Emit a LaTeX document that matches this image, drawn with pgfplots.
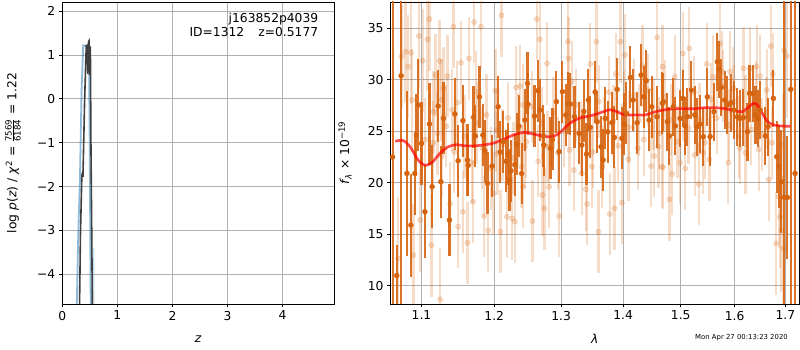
\documentclass[border=0pt]{standalone}
\usepackage{amsmath}
\usepackage{fontspec}
\setmainfont{DejaVu Sans}
\usepackage{pgfplots}
\usepackage{pgfplotstable}
\pgfplotsset{compat=1.18}
\definecolor{orng}{RGB}{214,100,15}
\definecolor{lblue}{RGB}{31,119,180}
\definecolor{gridgray}{RGB}{176,176,176}

\pgfplotstableread{
l f e
1.0626 22.5 28
1.0680 11.0 3
1.0735 30.4 25
1.0810 20.92 8
1.0861 15.9 5
1.0913 20.92 4
1.0934 24.64 4
1.0957 27.56 4.5
1.1000 23.83 4
1.1045 17.2 4.5
1.1106 25.71 4
1.1141 19.63 4
1.1222 27.46 3.5
1.1258 20.11 3.5
1.1293 26.26 3.5
1.1374 16.39 3.5
1.1448 26.68 3.5
1.1493 22.15 3.5
1.1558 26.04 3.5
1.1622 22.22 3.5
1.1632 21.7 3
1.1706 26.36 3
1.1733 24.55 3
1.1790 28.36 3
1.1838 24.64 3
1.1866 23.12 3
1.1903 19.95 3
1.1970 21.63 3
1.2057 27.39 3
1.2086 22.99 3
1.2130 24.0 3
1.2172 22.09 3
1.2200 22.8 3
1.2221 20.27 3
1.2241 21.18 3
1.2300 21.76 3
1.2329 23.77 3
1.2360 25.5 3
1.2400 20.9 3
1.2448 26.1 3
1.2487 29.66 3
1.2493 27.65 3
1.2592 26.49 3
1.2643 28.95 3
1.2673 27.07 3
1.2728 24.55 3
1.2734 23.67 3
1.2836 23.35 3
1.2866 24.22 3
1.2927 27.88 3
1.2969 23.03 3
1.3020 28.85 3
1.3074 26.59 3
1.3105 27.72 3
1.3145 27.65 3
1.3209 26.42 3
1.3282 24.81 3
1.3326 23.67 3
1.3358 26.94 3
1.3400 22.8 3
1.3431 28.04 3
1.3463 25.39 3
1.3540 28.82 3
1.3572 25.94 3
1.3637 23.51 3
1.3670 22.22 3
1.3703 26.26 3
1.3747 24.97 3
1.3813 25.84 3
1.3856 24.42 3
1.3901 29.08 3
1.3979 24.32 3
1.4021 25.71 3
1.4055 26.75 3
1.4124 30.24 3
1.4169 28.04 3
1.4237 25.84 3
1.4306 30.47 3
1.4351 28.36 3
1.4396 29.92 3
1.4443 26.1 3
1.4489 27.39 3
1.4582 26.42 3
1.4675 27.72 3
1.4692 27.88 2.8
1.4762 25.94 2.8
1.4797 24.55 2.8
1.4868 27.39 2.8
1.4903 25.52 2.8
1.4989 26.26 2.8
1.5037 28.2 2.8
1.5082 25.52 2.8
1.5119 26.42 2.8
1.5192 29.01 2.8
1.5254 26.59 2.8
1.5302 25.45 2.8
1.5352 25.71 2.8
1.5411 24.48 2.8
1.5485 28.36 2.8
1.5536 24.48 2.8
1.5610 26.91 2.8
1.5672 31.76 2.8
1.5698 31.02 2.8
1.5747 29.27 2.8
1.5811 28.04 2.8
1.5860 27.56 2.8
1.5925 27.78 2.8
1.5987 27.07 2.8
1.6051 26.42 2.8
1.6104 26.26 2.8
1.6168 26.36 2.8
1.6246 24.97 2.8
1.6285 28.69 2.8
1.6351 28.69 2.8
1.6402 26.59 2.8
1.6455 26.26 2.8
1.6494 27.07 2.8
1.6599 24.55 2.8
1.6652 25.45 2.8
1.6757 28.2 2.8
1.6826 22.54 3.5
1.6866 21.57 4
1.6919 20.11 5
1.6978 18.6 25
1.7040 18.59 6
1.7110 29.08 25
1.7199 20.92 25
}\darkdata

\pgfplotstableread{
l f e
1.0697 12.67 6
1.0740 32.25 5
1.0792 32.73 5
1.0826 31.28 5
1.0861 32.64 5
1.0878 28.04 5
1.0895 12.99 5
1.0966 34.25 5
1.0983 16.39 5
1.1018 31.86 5
1.1050 24.2 4
1.1079 33.93 5
1.1106 35.9 5
1.1132 13.96 5
1.1158 23.9 4
1.1160 26.9 4
1.1186 30.47 4
1.1213 24.81 4
1.1240 31.83 4
1.1249 8.69 5
1.1266 28.04 4
1.1270 22.6 4
1.1293 29.17 4
1.1330 25.5 4
1.1347 30.37 4
1.1384 18.01 4
1.1411 27.07 4
1.1429 35.16 4
1.1440 23.0 4
1.1480 27.8 4
1.1493 15.74 4
1.1531 31.67 4
1.1558 17.2 4
1.1580 24.5 4
1.1622 14.19 4
1.1642 32.09 4
1.1680 22.0 4
1.1698 18.17 4
1.1716 35.61 4
1.1744 28.85 4
1.1760 25.8 4
1.1810 35.16 4
1.1830 23.4 4
1.1856 16.78 4
1.1890 26.6 4
1.1913 15.36 4
1.1950 21.4 4
1.1989 18.98 4
1.2018 28.95 4
1.2030 25.1 4
1.2047 22.86 4
1.2090 15.26 4
1.2105 36.26 4
1.2120 23.7 3.5
1.2182 16.71 4
1.2200 26.3 3.5
1.2260 16.55 4
1.2280 22.4 3.5
1.2300 16.23 4
1.2319 29.27 4
1.2350 25.2 3.5
1.2378 29.4 4
1.2397 21.57 4
1.2418 27.56 4
1.2423 19.63 4
1.2448 23.51 4
1.2470 24.0 3.5
1.2550 27.4 3.5
1.2561 16.29 4
1.2627 35.9 4
1.2650 22.1 3.5
1.2673 33.93 4
1.2700 25.8 3.5
1.2712 18.82 4
1.2743 17.52 4
1.2783 31.6 4
1.2790 23.5 3.5
1.2814 19.63 4
1.2880 26.8 3.5
1.2950 22.9 3.5
1.2969 16.78 4
1.3040 25.0 3.5
1.3105 33.7 4
1.3114 32.09 4
1.3130 23.2 3.5
1.3167 29.82 4
1.3199 21.24 4
1.3230 27.6 3.5
1.3310 24.4 3.5
1.3326 20.92 4
1.3390 19.37 4
1.3411 17.94 4
1.3420 26.4 3.5
1.3463 31.54 4
1.3485 21.57 4
1.3500 23.0 3.5
1.3561 33.7 4
1.3593 15.26 4
1.3600 27.9 3.5
1.3657 21.57 4
1.3680 24.8 3.5
1.3760 28.8 3.5
1.3779 16.97 4
1.3840 26.0 3.5
1.3856 17.52 4
1.3880 30.57 4
1.3920 23.6 3.5
1.3956 33.7 4
1.3979 18.07 4
1.4010 27.5 3.5
1.4033 32.41 4
1.4090 22.28 4
1.4100 25.4 3.5
1.4180 28.5 3.5
1.4249 23.35 4
1.4270 26.1 3.5
1.4328 31.34 4
1.4350 24.2 3.5
1.4430 29.0 3.5
1.4477 21.63 4
1.4520 26.7 3.5
1.4534 22.6 4
1.4582 34.13 4
1.4605 23.51 4
1.4620 24.8 3.5
1.4665 21.57 4
1.4675 31.28 4
1.4682 21.5 4
1.4720 28.4 3.5
1.4799 18.4 4
1.4820 26.1 3.5
1.4846 20.86 4
1.4893 30.31 4
1.4940 24.0 3.5
1.4989 21.96 4
1.5037 32.57 4
1.5040 27.6 3.5
1.5082 21.41 4
1.5140 25.3 3.5
1.5156 33.06 4
1.5240 28.8 3.5
1.5254 22.7 4
1.5326 19.89 4
1.5340 26.2 3.5
1.5411 22.93 4
1.5440 23.9 3.5
1.5473 31.54 4
1.5523 22.28 4
1.5560 28.1 3.5
1.5596 30.31 4
1.5660 26.3 3.5
1.5723 33.54 4
1.5760 30.79 4
1.5780 29.4 3.5
1.5880 21.96 4
1.5890 25.6 3.5
1.5912 30.79 4
1.5975 29.17 4
1.5990 27.9 3.5
1.6078 24.48 4
1.6100 23.4 3.5
1.6168 31.12 4
1.6207 22.93 4
1.6210 27.0 3.5
1.6298 31.12 4
1.6320 25.2 3.5
1.6420 28.3 3.5
1.6429 31.28 4
1.6469 23.25 4
1.6494 30.37 4
1.6530 24.7 3.5
1.6620 26.8 3.5
1.6627 29.01 4
1.6666 20.34 4
1.6706 33.28 4
1.6730 23.9 3.5
1.6746 30.57 4
1.6812 14.13 5
1.6866 18.66 5
1.6893 16.71 5
1.6919 15.42 6
1.6948 23.67 5
1.6960 13.64 7
1.6974 32.83 6
1.7030 32.31 6
}\lightdata

\pgfplotsset{
  mystyle/.style={
    scale only axis,
    anchor=south west,
    grid=major,
    major grid style={gridgray, line width=0.8pt},
    axis line style={line width=0.8pt},
    tick align=outside,
    tick pos=left,
    major tick length=3.5pt,
    minor tick length=0pt,
    tick style={black, line width=0.8pt},
    ticklabel style={font=\fontsize{12.3}{14}\selectfont},
    label style={font=\fontsize{12.3}{14}\selectfont},
    /pgf/number format/assume math mode=true,
  }
}

\begin{document}
\begin{tikzpicture}
\useasboundingbox (0,0) rectangle (800pt,350pt);

\begin{axis}[mystyle,
  at={(62.3pt,46pt)}, width=272pt, height=302pt,
  xmin=0, xmax=4.94, ymin=-4.68, ymax=2.21,
  xtick={0,1,2,3,4},
  ytick={-4,-3,-2,-1,0,1,2},
  yticklabels={−4,−3,−2,−1,0,1,2},
  xlabel={\textit{z}},
  xlabel style={at={(axis description cs:0.5,-0.1159)}, anchor=center},
  ylabel={log \textit{p}(\textit{z}) / \textit{χ}\textsuperscript{2} = $\frac{\text{7569}}{\text{6184}}$ = 1.22},
  ylabel style={at={(axis description cs:-0.1813,0.5)}, anchor=center},
]
\addplot[lblue, opacity=0.5, line width=1.8pt] coordinates {
(0.25,-5.5) (0.29,-3.07) (0.32,-1.85) (0.35,0.2) (0.38,1.22) (0.41,1.21)
(0.44,1.22) (0.455,1.0) (0.47,0.57) (0.485,0.9) (0.495,-0.5) (0.52,-5.5)};
\addplot[lblue, opacity=0.25, line width=1.5pt] coordinates {(0.565,-3.4) (0.575,-5.5)};
\addplot[black!75, line width=1.6pt] coordinates {
(0.305,-5.5) (0.33,-3.07) (0.355,-1.75) (0.365,-1.70) (0.375,-1.78) (0.405,-0.05)
(0.435,1.21) (0.45,1.22) (0.465,0.57) (0.475,1.29) (0.485,1.32) (0.495,1.0)
(0.50,0.55) (0.51,1.2) (0.52,-1.0) (0.535,-3.07) (0.55,-5.5)};
\end{axis}

\node[anchor=base east, inner sep=0pt, font=\fontsize{12.3}{14}\selectfont] at (318.4pt,327pt) {j163852p4039};
\node[anchor=base east, inner sep=0pt, font=\fontsize{12.3}{14}\selectfont] at (318.4pt,313pt) {ID=1312\hspace{1.15em}z=0.5177};

\begin{axis}[mystyle,
  at={(390.5pt,46pt)}, width=408.5pt, height=302pt,
  xmode=log, log basis x=10,
  xmin=1.06, xmax=1.728, ymin=8.24, ymax=37.56,
  xtick={1.1,1.2,1.3,1.4,1.5,1.6,1.7},
  xticklabels={1.1,1.2,1.3,1.4,1.5,1.6,1.7},
  ytick={10,15,20,25,30,35},
  xlabel={\textit{λ}},
  xlabel style={at={(axis description cs:0.5,-0.1159)}, anchor=center},
  ylabel={\textit{f}\textsubscript{\textit{λ}} × 10\textsuperscript{−19}},
  ylabel style={at={(axis description cs:-0.1114,0.5)}, anchor=center},
]
\addplot[orng, only marks, mark=*, mark size=2.7pt,
  mark options={fill=orng, draw=none, opacity=0.22},
  error bars/.cd, y dir=both, y explicit, error mark=none,
  error bar style={orng, line width=2.2pt, opacity=0.22}]
  table[x=l, y=f, y error=e] {\lightdata};
\addplot[orng, only marks, mark=*, mark size=2.5pt,
  mark options={fill=orng, draw=none},
  error bars/.cd, y dir=both, y explicit, error mark=none,
  error bar style={orng, line width=2.1pt, opacity=0.9}]
  table[x=l, y=f, y error=e] {\darkdata};
\addplot[red, opacity=0.7, line width=2.6pt, smooth] coordinates {
(1.0659,24.05) (1.0763,24.1) (1.0852,23.5) (1.0957,22.2) (1.1049,21.7) (1.1142,22.0)
(1.1249,22.9) (1.1357,23.5) (1.1466,23.7) (1.1590,23.6) (1.1729,23.6) (1.1870,23.7)
(1.2013,23.9) (1.2157,24.3) (1.2304,24.7) (1.2452,24.9) (1.2602,24.7) (1.2753,24.5)
(1.2876,24.5) (1.2984,24.9) (1.3140,25.8) (1.3298,26.3) (1.3458,26.5) (1.3620,26.8)
(1.3784,27.1) (1.3900,26.9) (1.4033,26.6) (1.4202,26.6) (1.4373,26.6) (1.4546,26.9)
(1.4721,27.1) (1.4898,27.2) (1.5077,27.2) (1.5259,27.2) (1.5442,27.3) (1.5628,27.3)
(1.5816,27.2) (1.6006,27.0) (1.6141,26.9) (1.6257,27.3) (1.6354,27.7) (1.6433,27.6)
(1.6532,26.8) (1.6651,25.9) (1.6791,25.6) (1.6992,25.5) (1.7096,25.5)};
\end{axis}

\node[anchor=base, inner sep=0pt, font=\fontsize{6.9}{8}\selectfont] at (741.5pt,10.2pt) {Mon Apr 27 00:13:23 2020};
\end{tikzpicture}
\end{document}
